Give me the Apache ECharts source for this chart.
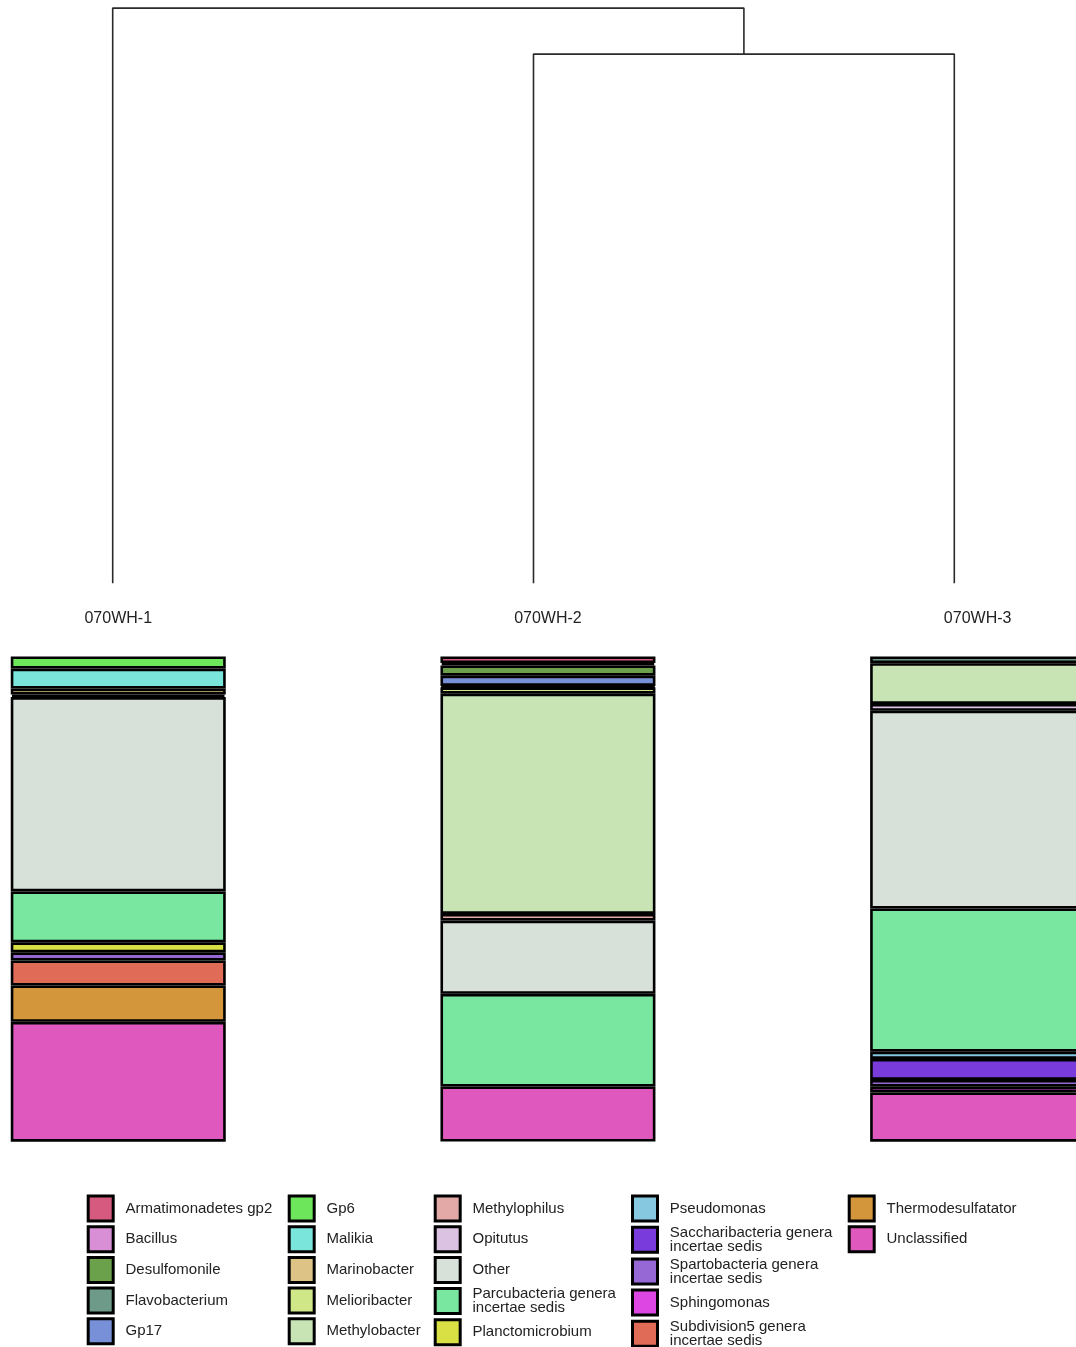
<!DOCTYPE html>
<html>
<head>
<meta charset="utf-8">
<script src="https://cdn.jsdelivr.net/npm/echarts@6/dist/echarts.min.js"></script>
<style>
  html, body { margin: 0; padding: 0; background: #fff; }
  #main { width: 1076px; height: 1347px; }
</style>
</head>
<body>
<div id="main"></div>
<script>
// samples and taxa
var samples = ['070WH-1', '070WH-2', '070WH-3'];
var taxa = [
    'Armatimonadetes gp2', 'Bacillus', 'Desulfomonile', 'Flavobacterium', 'Gp17',
    'Gp6', 'Malikia', 'Marinobacter', 'Melioribacter', 'Methylobacter',
    'Methylophilus', 'Opitutus', 'Other', 'Parcubacteria genera incertae sedis', 'Planctomicrobium',
    'Pseudomonas', 'Saccharibacteria genera incertae sedis', 'Spartobacteria genera incertae sedis', 'Sphingomonas', 'Subdivision5 genera incertae sedis',
    'Thermodesulfatator', 'Unclassified'
];
// relative abundance (%) per sample, same order as taxa
var wh1 = [0, 0, 0, 0, 0, 2.48, 4.13, 1.24, 0, 0.52, 0, 0, 40.05, 10.48, 2.06, 0, 0, 1.69, 0, 5.16, 7.49, 24.70];
var wh2 = [1.34, 0.52, 2.1, 0, 2.1, 0.3, 0, 0, 1.3, 45.4, 1.36, 0, 15.1, 19.1, 0, 0, 0, 0, 0, 0, 0, 11.35];
var wh3 = [0, 0, 0, 1.38, 0, 0, 0, 0, 0, 8.4, 0, 1.4, 40.76, 29.5, 0, 1.5, 4.33, 1.38, 1.2, 0, 0, 10.15];
// clustering (hclust style: negative = leaf, positive = earlier merge)
var mergePairs = [[-2, -3], [-1, 1]];
var mergeHeights = [0.46, 0.50];

var colors = [
    '#D65A80', '#D98FD5', '#6AA14A', '#6E9B89', '#7890D8',
    '#6EE65C', '#79E5DB', '#DDC386', '#CFE787', '#C8E4B5',
    '#E3A9A6', '#DBC2E2', '#D7E0D9', '#79E7A0', '#D9E043',
    '#85C8E0', '#793BDB', '#9568D6', '#DD46E3', '#E06B56',
    '#D3963B', '#DE58BE'
];

var chart = echarts.init(document.getElementById('main'));
var font = '"Liberation Sans", Arial, sans-serif';

var series = [];
taxa.forEach(function (name, i) {
    series.push({
        name: name,
        type: 'bar',
        stack: 'total',
        xAxisIndex: 0,
        yAxisIndex: 0,
        barWidth: 215,
        itemStyle: { color: colors[i], borderColor: '#000', borderWidth: 2.6 },
        data: [wh1[i], wh2[i], wh3[i]].map(function (v) { return v > 0 ? v : '-'; })
    });
});

// dendrogram from merge table
var nodeX = [], nodeH = [];
function nodePos(id) {
    return id < 0 ? [-id - 1, 0] : [nodeX[id - 1], nodeH[id - 1]];
}
mergePairs.forEach(function (p, i) {
    var a = nodePos(p[0]), b = nodePos(p[1]), h = mergeHeights[i];
    nodeX.push((a[0] + b[0]) / 2);
    nodeH.push(h);
    series.push({
        type: 'line',
        xAxisIndex: 1,
        yAxisIndex: 1,
        symbol: 'none',
        clip: false,
        silent: true,
        lineStyle: { color: '#2a2a2a', width: 1.6 },
        data: [[a[0], a[1]], [a[0], h], [b[0], h], [b[0], b[1]]]
    });
});

// legend columns
var legendCols = [[0, 5], [5, 10], [10, 15], [15, 20], [20, 22]];
var legendLeft = [86.7, 287.7, 433.7, 631, 847.7];
var legends = legendCols.map(function (c, k) {
    return {
        orient: 'vertical',
        left: legendLeft[k],
        top: 1194.5,
        height: 200,
        padding: 0,
        itemGap: 2.7,
        itemWidth: 25,
        itemHeight: 25,
        icon: 'rect',
        selectedMode: false,
        itemStyle: { borderColor: '#000', borderWidth: 3 },
        textStyle: {
            fontFamily: font, fontSize: 15, color: '#222',
            lineHeight: 14, padding: [0, 0, 0, 7.3]
        },
        formatter: function (name) { return name.replace(' incertae', '\nincertae'); },
        data: taxa.slice(c[0], c[1])
    };
});

option = {
    backgroundColor: '#fff',
    animation: false,
    legend: legends,
    grid: [
        { left: -96.6, width: 1289.1, top: 656.5, height: 485.2, outerBoundsMode: 'none', containLabel: false },
        { left: 112.7, width: 841.6, top: 8.1, height: 575.2, outerBoundsMode: 'none' }
    ],
    xAxis: [
        {
            type: 'category', gridIndex: 0, data: samples, position: 'top',
            axisLine: { show: false }, axisTick: { show: false },
            axisLabel: { fontFamily: font, fontSize: 16, color: '#222', margin: 30 }
        },
        { type: 'value', gridIndex: 1, min: 0, max: 2, show: false }
    ],
    yAxis: [
        { type: 'value', gridIndex: 0, min: 0, max: 100, inverse: true, show: false },
        { type: 'value', gridIndex: 1, min: 0, max: 0.50, show: false }
    ],
    series: series
};
chart.setOption(option);
</script>
</body>
</html>
